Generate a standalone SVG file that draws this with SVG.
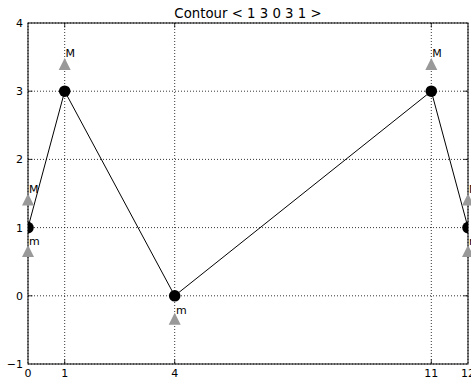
<svg xmlns="http://www.w3.org/2000/svg" width="471" height="381" viewBox="0 0 471 381">
<style>
.grid{stroke:#000;stroke-width:0.8;stroke-dasharray:1,2;fill:none}
.tick{stroke:#000;stroke-width:0.8}
.lbl{font-family:"DejaVu Sans",sans-serif;font-size:11px;fill:#000}
.title{font-family:"DejaVu Sans",sans-serif;font-size:13.3px;fill:#000}
.pt{fill:#000}
.tri{fill:#999}
.conn{stroke:#000;stroke-width:1;fill:none}
</style>
<defs>
<clipPath id="ax"><rect x="28" y="23" width="440" height="341"/></clipPath>
</defs>
<rect width="471" height="381" fill="#fff"/>
<g id="grid">
<line class="grid" x1="28" y1="23" x2="28" y2="364"/>
<line class="grid" x1="64.7" y1="23" x2="64.7" y2="364"/>
<line class="grid" x1="174.7" y1="23" x2="174.7" y2="364"/>
<line class="grid" x1="431.3" y1="23" x2="431.3" y2="364"/>
<line class="grid" x1="468" y1="23" x2="468" y2="364"/>
<line class="grid" x1="28" y1="23" x2="468" y2="23"/>
<line class="grid" x1="28" y1="91.2" x2="468" y2="91.2"/>
<line class="grid" x1="28" y1="159.4" x2="468" y2="159.4"/>
<line class="grid" x1="28" y1="227.6" x2="468" y2="227.6"/>
<line class="grid" x1="28" y1="295.8" x2="468" y2="295.8"/>
<line class="grid" x1="28" y1="364" x2="468" y2="364"/>
</g>
<g id="connectors" clip-path="url(#ax)">
<polyline class="conn" points="28,227.6 64.7,91.2 174.7,295.8 431.3,91.2 468,227.6"/>
</g>
<g id="axes">
<rect x="28" y="23" width="440" height="341" fill="none" stroke="#000" stroke-width="1"/>
<g class="tick">
<line x1="64.7" y1="364" x2="64.7" y2="359.5"/><line x1="174.7" y1="364" x2="174.7" y2="359.5"/><line x1="431.3" y1="364" x2="431.3" y2="359.5"/>
<line x1="64.7" y1="23" x2="64.7" y2="27.5"/><line x1="174.7" y1="23" x2="174.7" y2="27.5"/><line x1="431.3" y1="23" x2="431.3" y2="27.5"/>
<line x1="28" y1="91.2" x2="32.5" y2="91.2"/><line x1="28" y1="159.4" x2="32.5" y2="159.4"/><line x1="28" y1="227.6" x2="32.5" y2="227.6"/><line x1="28" y1="295.8" x2="32.5" y2="295.8"/>
<line x1="468" y1="91.2" x2="463.5" y2="91.2"/><line x1="468" y1="159.4" x2="463.5" y2="159.4"/><line x1="468" y1="227.6" x2="463.5" y2="227.6"/><line x1="468" y1="295.8" x2="463.5" y2="295.8"/>
</g>
<g class="lbl" text-anchor="middle">
<text x="28" y="377">0</text><text x="64.7" y="377">1</text><text x="174.7" y="377">4</text><text x="431.3" y="377">11</text><text x="468" y="377">12</text>
</g>
<g class="lbl" text-anchor="end">
<text x="23" y="27">4</text><text x="23" y="95.2">3</text><text x="23" y="163.4">2</text><text x="23" y="231.6">1</text><text x="23" y="299.8">0</text><text x="23" y="368">−1</text>
</g>
<text class="title" x="248" y="18.3" text-anchor="middle">Contour &lt; 1 3 0 3 1 &gt;</text>
</g>
<g id="node0">
<circle class="pt" cx="28" cy="227.6" r="5.8" clip-path="url(#ax)"/>
<polygon class="tri" points="28,193.5 22,205.5 34,205.5"/>
<text class="lbl" x="29" y="193">M</text>
<polygon class="tri" points="28,245 22,257 34,257"/>
<text class="lbl" x="29" y="245">m</text>
</g>
<g id="node1">
<circle class="pt" cx="64.7" cy="91.2" r="5.8" clip-path="url(#ax)"/>
<polygon class="tri" points="64.7,58 58.7,70 70.7,70"/>
<text class="lbl" x="65.5" y="57">M</text>
</g>
<g id="node2">
<circle class="pt" cx="174.7" cy="295.8" r="5.8" clip-path="url(#ax)"/>
<polygon class="tri" points="174.7,312.8 168.7,324.8 180.7,324.8"/>
<text class="lbl" x="176" y="313.5">m</text>
</g>
<g id="node3">
<circle class="pt" cx="431.3" cy="91.2" r="5.8" clip-path="url(#ax)"/>
<polygon class="tri" points="431.3,58 425.3,70 437.3,70"/>
<text class="lbl" x="432.3" y="57">M</text>
</g>
<g id="node4">
<circle class="pt" cx="468" cy="227.6" r="5.8" clip-path="url(#ax)"/>
<polygon class="tri" points="468,193.5 462,205.5 474,205.5"/>
<text class="lbl" x="469" y="193">M</text>
<polygon class="tri" points="468,245 462,257 474,257"/>
<text class="lbl" x="469" y="245">m</text>
</g>
</svg>
